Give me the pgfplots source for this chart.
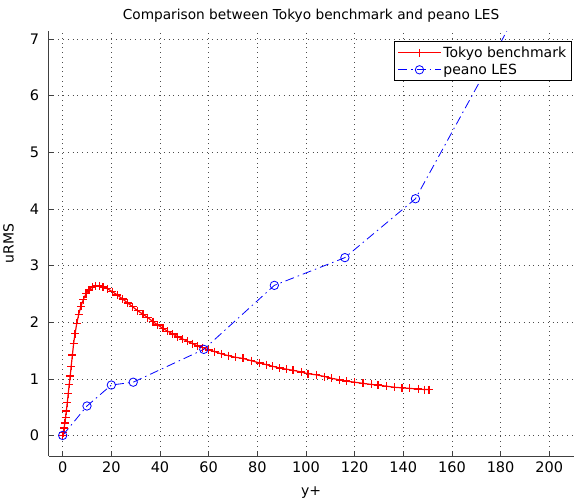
\documentclass[border=0pt]{standalone}
\usepackage{fontspec}
\setmainfont{DejaVu Sans}
\usepackage{pgfplots}
\pgfplotsset{compat=1.18}

\begin{document}
\begin{tikzpicture}
\begin{axis}[
    scale only axis,
    width=525pt,
    height=425pt,
    xmin=-5.8, xmax=210,
    ymin=-0.366, ymax=7.14,
    axis lines=left,
    axis line style={-, line width=0.8pt, black!75},
    xtick={0,20,...,200},
    ytick={0,1,...,7},
    tick align=inside,
    major tick length=5pt,
    tick style={black!75, line width=0.6pt},
    grid=major,
    grid style={black!70, line width=0.6pt, dash pattern=on 0.8pt off 4pt},
    /pgf/number format/assume math mode=true,
    ticklabel style={font=\fontsize{14.5}{14.5}\selectfont},
    xticklabel style={yshift=-2pt},
    yticklabel style={xshift=-6pt},
    title={Comparison between Tokyo benchmark and peano LES},
    title style={font=\fontsize{13.7}{13.7}\selectfont, yshift=-1pt},
    xlabel={y+},
    ylabel={uRMS},
    label style={font=\fontsize{14}{14}\selectfont},
    xlabel style={yshift=-7pt},
    ylabel style={yshift=9pt},
    legend style={at={(rel axis cs:0.996,0.976)}, anchor=north east,
        font=\fontsize{14}{14}\selectfont, line width=0.8pt,
        cells={anchor=west}, row sep=1pt, inner ysep=3pt},
    legend cell align=left,
    legend image code/.code={
        \draw[mark repeat=2, mark phase=2, #1]
        plot coordinates {(0cm,0cm) (0.75cm,0cm) (1.5cm,0cm)};},
]
\addlegendimage{red, line width=1.2pt, mark=+, mark size=4pt}
\addlegendentry{Tokyo benchmark}
\addlegendimage{blue, line width=0.8pt, dash pattern=on 9pt off 4pt on 1.5pt off 4pt,
    mark=o, mark size=4.2pt, mark options={solid}}
\addlegendentry{peano LES}
\addplot[forget plot, red, line width=1.2pt, mark=+, mark size=4pt] coordinates {
(0,0) (0.3,0.05) (0.6,0.13) (0.9,0.22) (1.2,0.31) (1.5,0.43) (1.9,0.58)
(2.3,0.74) (2.7,0.90) (3.1,1.05) (3.5,1.22) (4.0,1.42) (4.5,1.62) (5.1,1.80)
(5.8,1.98) (6.6,2.14) (7.5,2.28) (8.5,2.40) (9.6,2.50) (10.8,2.57) (12.1,2.62)
(13.5,2.64) (15.0,2.64) (16.6,2.62) (18.4,2.59) (20.4,2.54) (22.5,2.48)
(24.6,2.41) (26.7,2.34) (28.8,2.27) (30.9,2.20) (33.0,2.14) (35.0,2.08)
(37.1,2.01) (39.1,1.95) (41.2,1.89) (43.2,1.84) (45.3,1.79) (47.3,1.74)
(49.4,1.70) (51.4,1.66) (53.5,1.62) (55.5,1.58) (57.6,1.55) (60.0,1.51)
(62.5,1.48) (65.2,1.44) (68.0,1.41) (71.0,1.38) (74.1,1.36) (77.5,1.32)
(81.0,1.28) (83.7,1.25) (86.4,1.22) (89.2,1.19) (91.9,1.17) (94.7,1.15)
(98.1,1.12) (100.8,1.09) (104.3,1.07) (107.7,1.04) (110.4,1.01) (113.9,0.98)
(116.6,0.96) (120.0,0.94) (123.4,0.92) (126.9,0.90) (129.6,0.89) (133.0,0.87)
(136.5,0.85) (139.5,0.84) (142.7,0.83) (146.1,0.82) (148.8,0.81) (150.6,0.81)
};
\addplot[forget plot, blue, line width=0.8pt,
    dash pattern=on 9pt off 4pt on 1.5pt off 4pt,
    mark=o, mark size=4.2pt, mark options={solid}] coordinates {
(0,0) (10,0.52) (20,0.89) (29,0.94) (58,1.52) (87,2.65) (116,3.14) (145,4.18)
(174,6.45) (203,8.8)
};
\end{axis}
% a little room above the title, as in the reference
\path (current bounding box.north) ++(0,6pt);
\end{tikzpicture}
\end{document}
